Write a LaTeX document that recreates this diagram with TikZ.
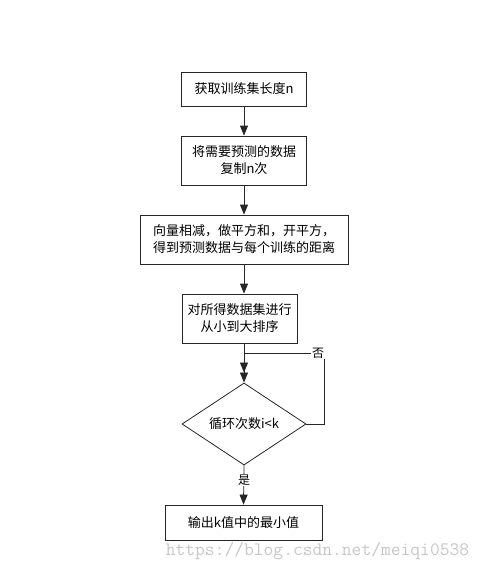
\documentclass[tikz,border=0pt]{standalone}
\usepackage{fontspec}
\newfontfamily\cjk{Noto Sans CJK SC}
\usetikzlibrary{shapes,arrows.meta,positioning}
\tikzset{box/.style={rectangle,draw=black!85,line width=0.8pt,fill=white,
align=center,inner sep=2pt,font=\cjk\fontsize{13}{17}\selectfont},
decision/.style={diamond,draw=black!85,line width=0.8pt,inner sep=0pt,
minimum width=124pt,minimum height=74pt,font=\cjk\fontsize{13}{17}\selectfont},
lbl/.style={fill=white,inner sep=1pt,font=\cjk\fontsize{12}{12}\selectfont},
watermark/.style={text=black!22,font=\ttfamily\fontsize{19}{19}\selectfont},
line/.style={draw=black!85,line width=0.8pt},
>={Triangle[width=8pt,length=10pt]}}
\begin{document}
\begin{tikzpicture}[x=1pt,y=-1pt]
  \useasboundingbox (0,0) rectangle (484,570);
  \node (len) [box,minimum width=125pt,minimum height=34pt] at (244,89) {获取训练集长度n};
  \node (copy) [box,minimum width=125pt,minimum height=49pt] at (244,160.5) {将需要预测的数据\\复制n次};
  \node (dist) [box,minimum width=208pt,minimum height=49pt] at (244,239.5) {向量相减，做平方和，开平方，\\得到预测数据与每个训练的距离};
  \node (sort) [box,minimum width=115pt,minimum height=49pt] at (239.5,318.5) {对所得数据集进行\\从小到大排序};
  \node (loop) [decision] at (244,424) {循环次数i<k};
  \node (out) [box,minimum width=157pt,minimum height=35pt] at (243.5,522.5) {输出k值中的最小值};
  \coordinate (merge) at (244,353);
  \coordinate (back) at (324,353);

  \draw [line,->] (len) -- (copy);
  \draw [line,->] (copy) -- (dist);
  \draw [line,->] (dist.south) -- (dist.south |- sort.north);
  \draw [line,->>] (sort.south -| loop.north) -- (loop.north);
  \draw [line] (loop.east) -| (back) -- (merge);
  \draw [line,->] (loop.south) -- (out.north);

  \node (capno) [lbl] at (318,353) {否};
  \node (capyes) [lbl] at (244,480) {是};
  \node (wm) [watermark] at (317.5,551) {https://blog.csdn.net/meiqi0538};
\end{tikzpicture}
\end{document}
